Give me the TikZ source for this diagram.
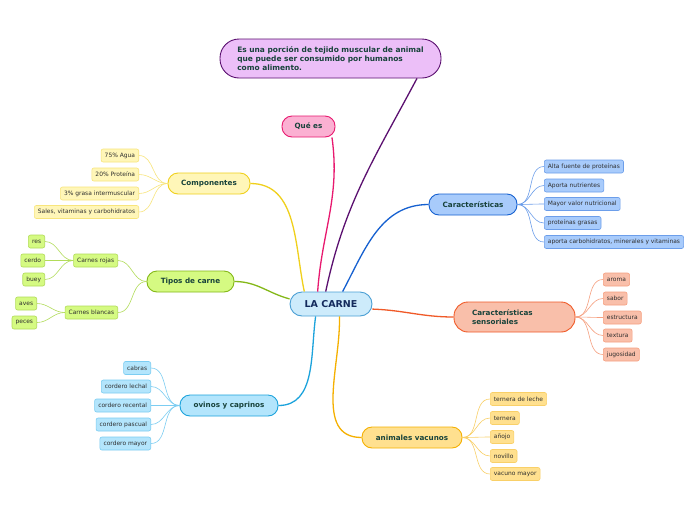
\documentclass[tikz,border=0pt]{standalone}
\usepackage{fontspec}
\setmainfont{DejaVu Sans}

\definecolor{topictext}{HTML}{17423A}
\definecolor{leaftext}{HTML}{2E2E2E}
\definecolor{carneFill}{HTML}{CDEBFB}
\definecolor{carneDraw}{HTML}{4A9FD4}
\definecolor{defFill}{HTML}{ECBFF8}
\definecolor{defDraw}{HTML}{5B1070}
\definecolor{queFill}{HTML}{FBB0D2}
\definecolor{queDraw}{HTML}{E8196F}
\definecolor{compFill}{HTML}{FFF6B8}
\definecolor{compDraw}{HTML}{F0D01C}
\definecolor{compLine}{HTML}{F8E57C}
\definecolor{tipoFill}{HTML}{D5FA82}
\definecolor{tipoDraw}{HTML}{84B818}
\definecolor{tipoLine}{HTML}{B2DC5A}
\definecolor{ovinFill}{HTML}{B3E5FC}
\definecolor{ovinDraw}{HTML}{1CA3DC}
\definecolor{ovinLine}{HTML}{7CCDF2}
\definecolor{caracFill}{HTML}{A8CBFB}
\definecolor{caracDraw}{HTML}{1560D0}
\definecolor{caracLine}{HTML}{6C9EEA}
\definecolor{sensFill}{HTML}{F9BFAA}
\definecolor{sensDraw}{HTML}{F05A28}
\definecolor{sensLine}{HTML}{F6A080}
\definecolor{vacFill}{HTML}{FFE08F}
\definecolor{vacDraw}{HTML}{F5B000}
\definecolor{vacLine}{HTML}{F9D068}
\definecolor{carneText}{HTML}{132A5C}

\tikzset{
  topic/.style={draw=#1Draw, fill=#1Fill, line width=0.9pt, rounded corners=10pt,
    minimum height=21pt, inner xsep=6pt, text=topictext,
    font=\fontsize{7.2}{8.6}\selectfont\bfseries},
  leaf/.style={draw=#1Line, fill=#1Fill, line width=0.6pt, rounded corners=2pt,
    minimum height=13pt, inner xsep=3.6pt, inner ysep=0pt, text=leaftext,
    font=\fontsize{5.95}{7}\selectfont},
  branch/.style={draw=#1Draw, line width=1.3pt},
  twig/.style={draw=#1Line, line width=0.6pt},
}

\begin{document}
\begin{tikzpicture}[x=1pt,y=-1pt]
  \path[use as bounding box, fill=white] (0,0) rectangle (696,520);

  % central topic
  \node[draw=carneDraw, fill=carneFill, line width=0.9pt, rounded corners=12pt,
    minimum width=82pt, minimum height=24pt, text=carneText,
    font=\fontsize{9.5}{11}\selectfont\bfseries] (carne) at (331,304) {LA CARNE};

  % main topics
  \node[topic=def, rounded corners=19pt, minimum width=221pt, minimum height=39pt,
    inner xsep=17pt, align=left, font=\fontsize{7.45}{9}\selectfont\bfseries] (def) at (330.5,58.5)
    {Es una porción de tejido muscular de animal\\que puede ser consumido por humanos\\como alimento.};
  \node[topic=que, minimum width=53pt] (que) at (308.5,126.5) {Qué es};
  \node[topic=comp, minimum width=82pt] (comp) at (209,183.5) {Componentes};
  \node[topic=tipo, minimum width=87pt] (tipo) at (190.5,281.5) {Tipos de carne};
  \node[topic=ovin, minimum width=98pt] (ovin) at (229,405.5) {ovinos y caprinos};
  \node[topic=carac, minimum width=88pt] (carac) at (473,204.5) {Características};
  \node[topic=sens, rounded corners=14pt, minimum width=121pt, minimum height=30pt,
    inner xsep=18pt, text width=85pt, align=left] (sens) at (514.5,317) {Características\\sensoriales};
  \node[topic=vac, minimum width=100pt] (vac) at (412,437.5) {animales vacunos};

  % branches from the centre
  \draw[branch=def] (carne.113) to[out=78, in=-118] (def.-13.5);
  \draw[branch=que] (carne.137) to[out=86, in=-82] (que.-25);
  \draw[branch=comp] (carne.155) to[out=102, in=0] (comp.east);
  \draw[branch=tipo] (carne.173) to[out=165, in=0] (tipo.east);
  \draw[branch=ovin] (carne.219) to[out=-98, in=0] (ovin.east);
  \draw[branch=vac] (carne.-56) to[out=-88, in=180] (vac.west);
  \draw[branch=carac] (carne.47) to[out=62, in=180] (carac.west);
  \draw[branch=sens] (carne.-7) to[out=-2, in=180] (sens.west);

  % componentes
  \foreach \y/\t [count=\n] in {155.5/75\% Agua, 174.5/20\% Proteína,
      193.5/3\% grasa intermuscular, {212/Sales, vitaminas y carbohidratos}} {
    \node[leaf=comp, anchor=east] (comp\n) at (139,\y) {\t};
    \draw[twig=comp] (comp.west) to[out=180, in=0] (comp\n.east);
  }

  % tipos de carne
  \node[leaf=tipo, draw=tipoLine, anchor=east] (rojas) at (118,260.5) {Carnes rojas};
  \node[leaf=tipo, draw=tipoLine, anchor=east] (blancas) at (118,312.5) {Carnes blancas};
  \draw[twig=tipo] (tipo.west) to[out=180, in=0] (rojas.east);
  \draw[twig=tipo] (tipo.west) to[out=180, in=0] (blancas.east);
  \foreach \y/\t [count=\n] in {241.5/res, 260.5/cerdo, 279.5/buey} {
    \node[leaf=tipo, anchor=east] (rojas\n) at (45,\y) {\t};
    \draw[twig=tipo] (rojas.west) to[out=180, in=0] (rojas\n.east);
  }
  \foreach \y/\t [count=\n] in {303.5/aves, 322.5/peces} {
    \node[leaf=tipo, anchor=east] (blancas\n) at (37,\y) {\t};
    \draw[twig=tipo] (blancas.west) to[out=180, in=0] (blancas\n.east);
  }

  % ovinos y caprinos
  \foreach \y/\t [count=\n] in {368/cabras, 386.5/cordero lechal, 405.5/cordero recental,
      424.5/cordero pascual, 443.5/cordero mayor} {
    \node[leaf=ovin, anchor=east] (ovin\n) at (151,\y) {\t};
    \draw[twig=ovin] (ovin.west) to[out=180, in=0] (ovin\n.east);
  }

  % caracteristicas
  \foreach \y/\t [count=\n] in {166.5/Alta fuente de proteínas, 185.5/Aporta nutrientes,
      204/Mayor valor nutricional, 223/proteínas grasas,
      {242/aporta carbohidratos, minerales y vitaminas}} {
    \node[leaf=carac, anchor=west] (carac\n) at (544,\y) {\t};
    \draw[twig=carac] (carac.east) to[out=0, in=180] (carac\n.west);
  }

  % caracteristicas sensoriales
  \foreach \y/\t [count=\n] in {279.5/aroma, 298.5/sabor, 317.5/estructura,
      335.5/textura, 354.5/jugosidad} {
    \node[leaf=sens, anchor=west] (sens\n) at (603,\y) {\t};
    \draw[twig=sens] (sens.east) to[out=0, in=180] (sens\n.west);
  }

  % animales vacunos
  \foreach \y/\t [count=\n] in {399/ternera de leche, 418/ternera, 437/añojo,
      456/novillo, 474/vacuno mayor} {
    \node[leaf=vac, anchor=west] (vac\n) at (490,\y) {\t};
    \draw[twig=vac] (vac.east) to[out=0, in=180] (vac\n.west);
  }
\end{tikzpicture}
\end{document}
